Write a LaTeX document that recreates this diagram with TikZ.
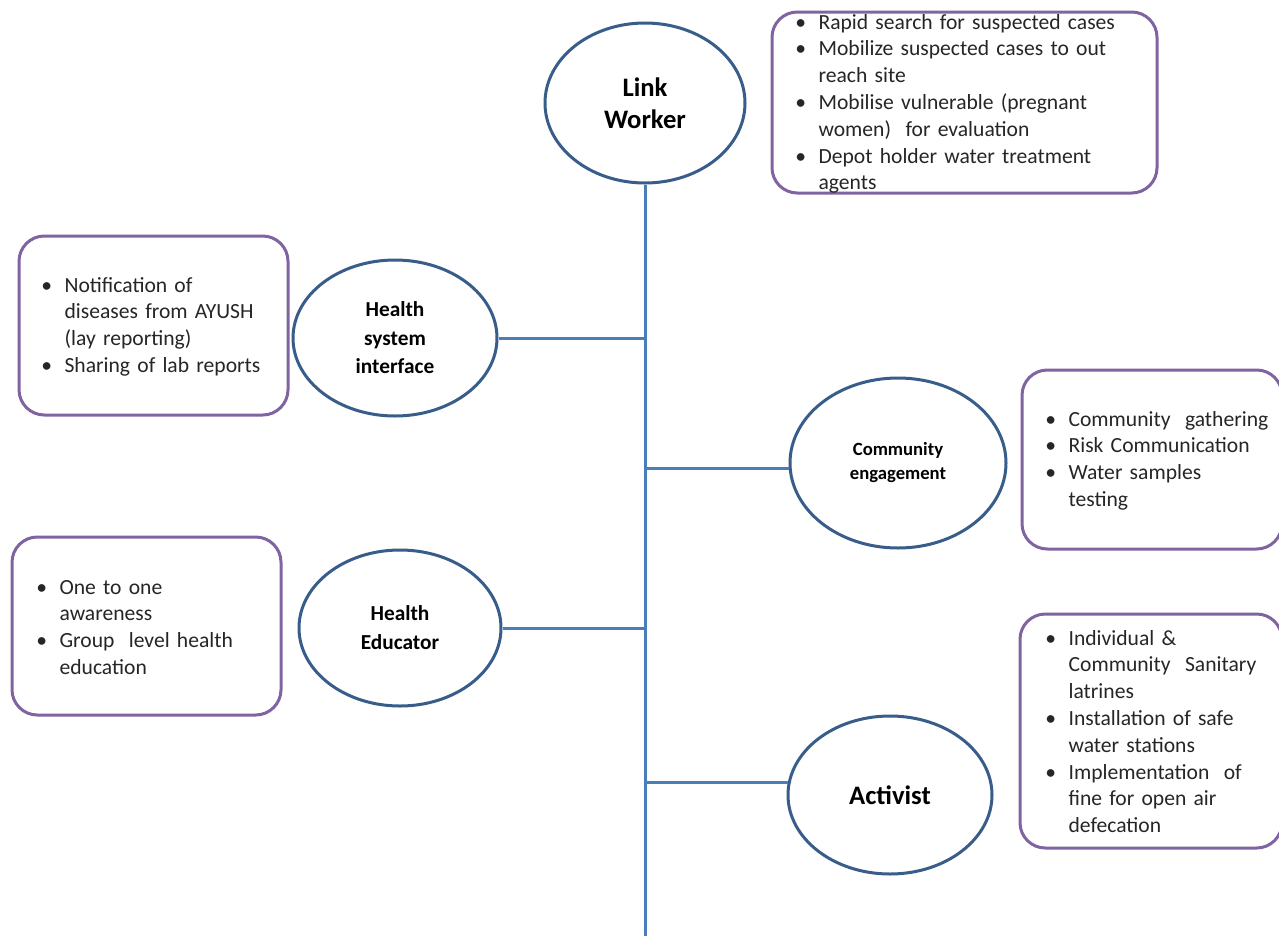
\documentclass[tikz,border=0pt]{standalone}
\usepackage{fontspec}
\setmainfont{Carlito}
\usetikzlibrary{shapes.geometric}
\definecolor{ringblue}{RGB}{56,93,138}
\definecolor{stemblue}{RGB}{74,126,187}
\definecolor{boxpurple}{RGB}{128,100,162}
\definecolor{txtgray}{RGB}{38,38,38}
\newcommand{\bul}{\par\noindent\hangindent=1.08em\hangafter=1\makebox[1.08em][l]{\textbullet}}

\begin{document}
\begin{tikzpicture}[x=0.75pt,y=0.75pt,yscale=-1,xscale=1,
  role/.style={ellipse,draw=ringblue,line width=2.25pt,inner sep=0pt,align=center},
  stem/.style={draw=stemblue,line width=2.25pt},
  listbox/.style={draw=boxpurple,line width=2.25pt,rounded corners=19pt},
  listtext/.style={anchor=north west,inner sep=0pt,text width=#1,align=left,text=txtgray,font=\fontsize{16.2}{20.1}\selectfont}]
\fill [white] (0,0) rectangle (1279,936);
\useasboundingbox (0,0) rectangle (1279,936);

\node [role,minimum width=150pt,minimum height=120pt,font=\bfseries\fontsize{20}{24}\selectfont] (lw) at (645,103) {Link\\Worker};
\node [role,minimum width=153pt,minimum height=117pt,font=\bfseries\fontsize{16}{21.4}\selectfont] (hsi) at (395,338) {Health\\system\\interface};
\node [role,minimum width=162pt,minimum height=127.5pt,font=\bfseries\fontsize{14}{18}\selectfont] (ce) at (898,463) {Community\\engagement};
\node [role,minimum width=151.5pt,minimum height=117pt,font=\bfseries\fontsize{16}{21.75}\selectfont] (he) at (400,628) {Health\\Educator};
\node [role,minimum width=153pt,minimum height=118.5pt,font=\bfseries\fontsize{20}{24}\selectfont] (act) at (890,795) {Activist};

\coordinate (stemend) at (645,936);
\draw [stem] (lw) -- (stemend);
\draw [stem] (hsi) -- (hsi -| lw);
\draw [stem] (ce.183) -- (ce.183 -| lw);
\draw [stem] (he) -- (he -| lw);
\draw [stem] (act.173) -- (act.173 -| lw);

\draw [listbox] (772,12) rectangle (1157,193);
\draw [listbox] (19,236) rectangle (288,415);
\draw [listbox] (12,537) rectangle (281,715);
\draw [listbox] (1022,370) rectangle (1282,549);
\draw [listbox] (1020,614) rectangle (1282,848);

\node [listtext=280pt] (lwlist) at (795,2) {\bul Rapid search for suspected cases\bul Mobilize suspected cases to out\newline reach site\bul Mobilise vulnerable (pregnant\newline women)\ \ for evaluation\bul Depot holder water treatment\newline agents\par};
\node [listtext=220pt] (hsilist) at (41,265) {\bul Notification of\newline diseases from AYUSH\newline (lay reporting)\bul Sharing of lab reports\par};
\node [listtext=220pt] (helist) at (36,567) {\bul One to one\newline awareness\bul Group\ \ level health\newline education\par};
\node [listtext=220pt] (celist) at (1045,399) {\bul Community\ \ gathering\bul Risk Communication\bul Water samples\newline testing\par};
\node [listtext=220pt] (actlist) at (1045,618) {\bul Individual \&\newline Community\ \ Sanitary\newline latrines\bul Installation of safe\newline water stations\bul Implementation\ \ of\newline fine for open air\newline defecation\par};
\end{tikzpicture}
\end{document}
